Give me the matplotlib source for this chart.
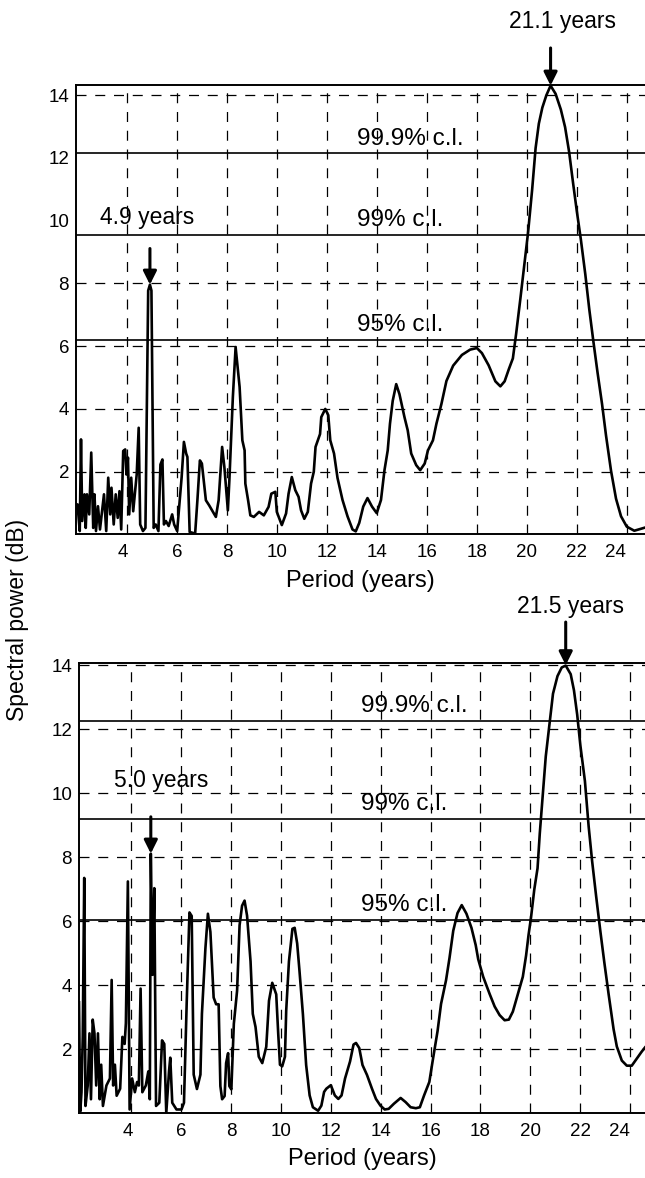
import matplotlib
matplotlib.use("Agg")
import matplotlib.pyplot as plt
from matplotlib.transforms import ScaledTranslation

plt.rcParams['font.family'] = ['Liberation Sans', 'DejaVu Sans']

# ---- data ----
top_period = [1.96, 2.01, 2.10, 2.15, 2.20, 2.29, 2.34, 2.39, 2.48, 2.56, 2.64, 2.69, 2.75, 2.83,
              2.91, 3.07, 3.16, 3.24, 3.32, 3.37, 3.46, 3.54, 3.62, 3.69, 3.76, 3.84, 3.92, 3.97,
              4.03, 4.08, 4.16, 4.24, 4.33, 4.38, 4.46, 4.52, 4.63, 4.73, 4.84, 4.91, 4.97, 5.06,
              5.14, 5.25, 5.33, 5.41, 5.47, 5.55, 5.66, 5.80, 5.88, 6.00, 6.07, 6.18, 6.27, 6.36,
              6.41, 6.50, 6.72, 6.81, 6.91, 6.99, 7.15, 7.28, 7.55, 7.66, 7.80, 7.89, 8.03, 8.09,
              8.23, 8.34, 8.50, 8.61, 8.70, 8.73, 8.84, 8.93, 9.07, 9.28, 9.47, 9.66, 9.77, 9.93,
              9.99, 10.19, 10.36, 10.46, 10.59, 10.73, 10.86, 10.96, 11.09, 11.23, 11.36, 11.47,
              11.54, 11.72, 11.77, 11.93, 12.05, 12.13, 12.28, 12.42, 12.62, 12.82, 13.02, 13.15,
              13.29, 13.45, 13.62, 13.80, 13.99, 14.16, 14.30, 14.43, 14.52, 14.63, 14.77, 14.90,
              15.10, 15.23, 15.37, 15.57, 15.73, 15.91, 16.04, 16.24, 16.38, 16.58, 16.78, 17.05,
              17.40, 17.73, 18.00, 18.20, 18.47, 18.74, 18.94, 19.11, 19.28, 19.44, 19.57, 19.74,
              19.92, 20.05, 20.21, 20.35, 20.48, 20.62, 20.78, 20.95, 21.15, 21.36, 21.53, 21.69,
              21.85, 22.00, 22.16, 22.34, 22.50, 22.66, 22.83, 23.01, 23.17, 23.37, 23.57, 23.77,
              24.00, 24.30, 24.73]
top_power = [0.85, 0.96, 0.11, 3.03, 0.43, 1.28, 0.21, 1.28, 0.64, 2.61, 0.21, 1.28, 0.11, 0.90,
             0.16, 1.28, 0.11, 1.81, 0.64, 1.49, 0.32, 1.28, 0.53, 1.38, 0.16, 2.66, 2.71, 1.91,
             2.45, 0.64, 1.81, 0.74, 1.49, 1.91, 3.40, 0.32, 0.11, 0.21, 7.77, 7.96, 7.77, 0.21,
             0.32, 0.11, 2.23, 2.39, 0.32, 0.43, 0.27, 0.64, 0.32, 0.11, 0.77, 1.83, 2.95, 2.58,
             2.47, 0.08, 0.03, 1.09, 2.36, 2.26, 1.09, 0.93, 0.56, 1.09, 2.79, 2.15, 0.77, 1.73,
             4.38, 5.97, 4.70, 3.00, 2.68, 1.62, 1.09, 0.61, 0.56, 0.72, 0.61, 0.88, 1.30, 1.36,
             0.72, 0.30, 0.67, 1.30, 1.83, 1.41, 1.20, 0.77, 0.50, 0.72, 1.62, 2.00,
             2.79, 3.20, 3.74, 4.00, 3.80, 3.00, 2.58, 1.80, 1.10, 0.58, 0.16, 0.10,
             0.37, 0.89, 1.16, 0.89, 0.68, 1.10, 2.05, 2.68, 3.53, 4.26, 4.79, 4.47,
             3.74, 3.32, 2.58, 2.21, 2.05, 2.26, 2.68, 3.00, 3.53, 4.16, 4.89, 5.38,
             5.72, 5.89, 5.94, 5.78, 5.39, 4.88, 4.72, 4.88, 5.27, 5.61, 6.39, 7.51,
             8.74, 9.63, 10.97, 12.31, 13.09, 13.60, 13.99, 14.30, 14.04, 13.54, 12.98, 12.20,
             11.20, 10.30, 9.41, 8.29, 7.17, 6.17, 5.16, 4.16, 3.15, 2.03, 1.14, 0.58,
             0.25, 0.12, 0.22]

bot_period = [1.90, 1.95, 2.00, 2.05, 2.11, 2.16, 2.25, 2.32, 2.38, 2.45, 2.52, 2.59, 2.66, 2.73,
              2.79, 2.86, 3.00, 3.14, 3.21, 3.27, 3.34, 3.41, 3.55, 3.64, 3.73, 3.78, 3.86, 3.93,
              4.03, 4.14, 4.23, 4.30, 4.37, 4.44, 4.58, 4.68, 4.74, 4.78, 4.85, 4.92, 4.99, 5.12,
              5.23, 5.32, 5.40, 5.51, 5.56, 5.64, 5.81, 6.01, 6.11, 6.22, 6.33, 6.42, 6.50, 6.63,
              6.77, 6.83, 6.97, 7.07, 7.17, 7.30, 7.40, 7.50, 7.57, 7.64, 7.74, 7.80, 7.88, 7.93,
              8.01, 8.11, 8.24, 8.34, 8.44, 8.54, 8.64, 8.78, 8.87, 8.98, 9.11, 9.25, 9.41, 9.52,
              9.65, 9.81, 9.89, 9.96, 10.05, 10.16, 10.21, 10.32, 10.46, 10.55, 10.65, 10.74,
              10.88, 11.01, 11.15, 11.28, 11.49, 11.62, 11.73, 11.82, 12.00, 12.16, 12.30, 12.43,
              12.57, 12.77, 12.91, 13.01, 13.14, 13.27, 13.45, 13.65, 13.81, 13.99, 14.16, 14.32,
              14.53, 14.80, 15.00, 15.20, 15.41, 15.57, 15.74, 15.95, 16.08, 16.28, 16.42, 16.62,
              16.76, 16.91, 17.08, 17.25, 17.44, 17.64, 17.81, 17.91, 18.11, 18.37, 18.57, 18.77,
              18.97, 19.14, 19.30, 19.50, 19.70, 19.83, 19.93, 20.03, 20.16, 20.29, 20.38, 20.49,
              20.62, 20.78, 20.91, 21.09, 21.26, 21.42, 21.62, 21.75, 21.88, 22.01, 22.19, 22.34,
              22.48, 22.64, 22.81, 22.97, 23.14, 23.34, 23.47, 23.67, 23.87, 24.07, 24.26, 24.46,
              24.60]
bot_power = [3.46, 0.05, 0.65, 2.38, 7.35, 0.22, 0.86, 2.49, 0.43, 2.92, 2.49, 0.86, 2.49, 0.43,
             1.51, 0.22, 0.86, 1.08, 4.16, 0.86, 1.51, 0.54, 0.76, 2.38, 2.16, 2.81, 7.24, 0.11,
             1.08, 0.65, 0.97, 0.86, 3.89, 0.65, 0.86, 1.30, 0.43, 8.11, 4.32, 7.03, 0.22, 0.32,
             2.27, 2.16, 0.00, 1.30, 1.73, 0.32, 0.11, 0.11, 0.32, 3.46, 6.27, 6.16, 1.20, 0.75,
             1.20, 3.10, 5.15, 6.23, 5.66, 3.61, 3.40, 3.40, 0.84, 0.43, 0.53, 1.56, 1.87, 0.84,
             0.74, 2.79, 3.82, 5.87, 6.48, 6.64, 6.17, 4.74, 3.10, 2.69, 1.76, 1.56, 2.07, 3.51,
             4.07, 3.71, 2.48, 1.51, 1.46, 1.76, 3.20, 4.74, 5.76, 5.79, 5.30, 4.47,
             3.09, 1.50, 0.55, 0.18, 0.07, 0.23, 0.66, 0.76, 0.87, 0.55, 0.44, 0.55,
             1.08, 1.61, 2.14, 2.19, 2.03, 1.50, 1.19, 0.76, 0.44, 0.23, 0.11, 0.13,
             0.29, 0.47, 0.34, 0.18, 0.15, 0.18, 0.55, 0.97, 1.61, 2.56, 3.41, 4.15,
             4.85, 5.70, 6.25, 6.50, 6.23, 5.79, 5.25, 4.81, 4.26, 3.72, 3.33, 3.06,
             2.90, 2.92, 3.17, 3.72, 4.26, 4.92, 5.57, 6.12, 6.99, 7.65, 8.74, 9.84,
             11.15, 12.24, 13.11, 13.66, 13.93, 13.99, 13.72, 13.22, 12.46, 11.48, 10.38, 8.96,
             7.87, 6.78, 5.68, 4.70, 3.72, 2.62, 2.08, 1.64, 1.48, 1.48, 1.69, 1.91,
             2.05]

cl_labels = ['95% c.l.', '99% c.l.', '99.9% c.l.']
top_cl = [6.2, 9.55, 12.15]
bot_cl = [6.03, 9.2, 12.27]

x_ticks = [4, 6, 8, 10, 12, 14, 16, 18, 20, 22, 24]
y_ticks = [2, 4, 6, 8, 10, 12, 14]
top_hgrid = [2, 4, 6, 8, 14]
bot_hgrid = [2, 4, 6, 8, 10, 12, 14]

top_peaks = [(20.95, 14.3, '21.1 years'), (4.91, 7.96, '4.9 years')]
bot_peaks = [(21.42, 14.0, '21.5 years'), (4.78, 8.11, '5.0 years')]

fig = plt.figure(figsize=(6.45, 11.78), dpi=100)
DASH = (0, (8, 7))


def draw_panel(ax, period, power, cls, hgrid, xlim, ylim, peaks, label_offsets):
    ax.set_xlim(*xlim)
    ax.set_ylim(*ylim)
    for x in x_ticks:
        ax.axvline(x, color='black', lw=0.9, linestyle=DASH, zorder=1)
    for y in hgrid:
        ax.axhline(y, color='black', lw=0.9, linestyle=DASH, zorder=1)
    for y, lab in zip(cls, cl_labels):
        ax.axhline(y, color='black', lw=1.2, zorder=2)
        ax.text(13.2, y + 0.46, lab, fontsize=17.5, ha='left', va='center', zorder=3)
    ax.plot(period, power, color='black', lw=1.9, solid_joinstyle='round', zorder=4)

    for (px, py, txt), (tx, ty, tail) in zip(peaks, label_offsets):
        ax.annotate('', xy=(px, py), xytext=(px, py + tail),
                    arrowprops=dict(arrowstyle='-|>', color='black', lw=2.2,
                                    mutation_scale=20, shrinkA=0, shrinkB=0),
                    annotation_clip=False)
        ax.text(px + tx, py + ty, txt, fontsize=16.5, ha='center', va='center', clip_on=False)

    ax.set_xticks(x_ticks)
    ax.set_yticks(y_ticks)
    ax.tick_params(length=0, labelsize=13.5)
    ax.tick_params(axis='x', pad=7)
    ax.tick_params(axis='y', pad=5)
    ax.spines['right'].set_visible(False)
    for s in ['top', 'left', 'bottom']:
        ax.spines[s].set_linewidth(1.4)
    ax.set_xlabel('Period (years)', fontsize=17, labelpad=6)

    # small shifts of the first and last period labels, as in the original
    labs = ax.get_xticklabels()
    labs[0].set_transform(labs[0].get_transform() + ScaledTranslation(-0.04, 0, fig.dpi_scale_trans))
    labs[-1].set_transform(labs[-1].get_transform() + ScaledTranslation(-0.11, 0, fig.dpi_scale_trans))


ax1 = fig.add_axes([76 / 645, 1 - 534.5 / 1178, 569 / 645, 449.5 / 1178])
draw_panel(ax1, top_period, top_power, top_cl, top_hgrid, (1.95, 24.73), (0, 14.32),
           top_peaks, [(0.47, 2.05, 1.2), (-0.1, 2.15, 1.15)])

ax2 = fig.add_axes([79 / 645, 1 - 1113 / 1178, 566 / 645, 450 / 1178])
draw_panel(ax2, bot_period, bot_power, bot_cl, bot_hgrid, (1.9, 24.6), (0, 14.07),
           bot_peaks, [(0.21, 1.85, 1.35), (0.42, 2.3, 1.15)])

fig.text(18 / 645, 1 - 620 / 1178, 'Spectral power (dB)', rotation=90, fontsize=16.5,
         ha='center', va='center')

fig.savefig('out.png', dpi=100)
